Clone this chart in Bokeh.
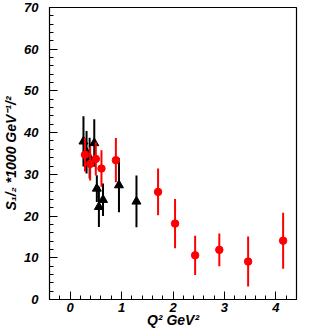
import numpy as np
from bokeh.plotting import figure
from bokeh.models import SingleIntervalTicker, Range1d
from bokeh.embed import file_html
from bokeh.resources import INLINE

# Red circles
red_q2 = [0.29, 0.39, 0.50, 0.61, 0.89, 1.71, 2.04, 2.43, 2.90, 3.46, 4.14]
red_s = [34.7, 32.5, 33.7, 31.4, 33.4, 25.8, 18.2, 10.6, 11.9, 9.1, 14.1]
red_err = [4.0, 4.0, 4.0, 4.4, 5.3, 5.6, 5.9, 4.7, 3.9, 6.0, 6.7]

# Black triangles
blk_q2 = [0.26, 0.32, 0.38, 0.47, 0.52, 0.56, 0.64, 0.95, 1.29]
blk_s = [37.9, 35.3, 33.9, 37.5, 26.6, 22.2, 23.9, 27.4, 23.5]
blk_err = [6.0, 5.1, 4.9, 5.7, 3.2, 4.8, 3.9, 6.5, 6.2]

x_title = "Q² GeV²"
y_title = "S₁/₂ *1000 GeV⁻¹/²"

FONT = "Liberation Sans"

p = figure(width=300, height=330, output_backend="svg", toolbar_location=None,
           x_range=Range1d(-0.4, 4.4), y_range=Range1d(0, 70),
           min_border_left=41, min_border_right=4, min_border_top=7, min_border_bottom=0)
p.grid.visible = False
p.outline_line_color = "black"
p.outline_line_width = 1.2
p.background_fill_color = "white"
p.border_fill_color = "white"

p.xaxis.ticker = SingleIntervalTicker(interval=1, num_minor_ticks=5)
p.yaxis.ticker = SingleIntervalTicker(interval=10, num_minor_ticks=5)
for ax in (p.xaxis, p.yaxis):
    ax.major_tick_in = 8
    ax.major_tick_out = 0
    ax.minor_tick_in = 4
    ax.minor_tick_out = 0
    ax.major_tick_line_color = "black"
    ax.minor_tick_line_color = "black"
    ax.axis_line_color = "black"
    ax.major_label_text_font = FONT
    ax.major_label_text_font_style = "bold italic"
    ax.major_label_text_font_size = "13px"
    ax.major_label_text_color = "black"
    ax.axis_label_text_font = FONT
    ax.axis_label_text_font_style = "bold italic"
    ax.axis_label_text_font_size = "14px"
    ax.axis_label_text_color = "black"

p.xaxis.axis_label = x_title
p.yaxis.axis_label = y_title
p.xaxis.major_label_standoff = 3
p.xaxis.axis_label_standoff = -3
p.yaxis.major_label_standoff = 11
p.yaxis.axis_label_standoff = 2

# error bars
bq = np.array(blk_q2); bs = np.array(blk_s); be = np.array(blk_err)
rq = np.array(red_q2); rs = np.array(red_s); re = np.array(red_err)
p.segment(bq, bs - be, bq, bs + be, line_color="black", line_width=2)
p.scatter(bq, bs, marker="triangle", size=9, color="black")
p.segment(rq, rs - re, rq, rs + re, line_color="red", line_width=2)
p.scatter(rq, rs, marker="circle", size=7.5, color="red")

open("out.html", "w").write(file_html(p, INLINE))
